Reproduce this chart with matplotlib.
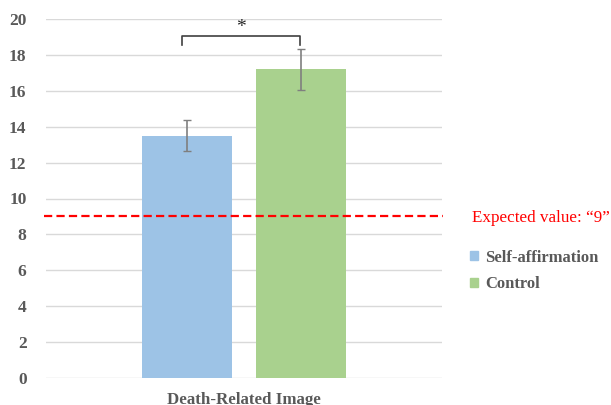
import matplotlib.pyplot as plt
from matplotlib.patches import Patch

# datos
grupos = ['Self-affirmation', 'Control']
medias = [13.48, 17.2]
err_abajo = [0.83, 1.16]
err_arriba = [0.89, 1.13]
categoria = 'Death-Related Image'
esperado = 9
colores = ['#9dc3e6', '#a9d18e']

plt.rcParams['font.family'] = ['Liberation Serif', 'DejaVu Serif']

fig = plt.figure(figsize=(6.11, 4.05), dpi=100)
ax = fig.add_axes([46/611, 1 - 378/405, 396/611, 359/405])

pos = [-0.144, 0.144]
for p, m, lo, hi, c in zip(pos, medias, err_abajo, err_arriba, colores):
    ax.bar(p, m, width=0.227, color=c, zorder=2)
    ax.errorbar(p, m, yerr=[[lo], [hi]], color='#7f7f7f', capsize=3,
                elinewidth=1.2, capthick=1, zorder=3)

ax.set_xlim(-0.5, 0.5)
ax.set_ylim(0, 20)
ax.set_yticks(range(0, 21, 2))
ax.set_xticks([0])
ax.set_xticklabels([categoria], fontsize=12.2, fontweight='bold', color='#595959')
ax.tick_params(axis='x', length=0, pad=10)
ax.tick_params(axis='y', length=0, labelsize=12.5, labelcolor='#595959', pad=14)
for lab in ax.get_yticklabels():
    lab.set_fontweight('bold')
ax.grid(axis='y', color='#d9d9d9', linewidth=1, zorder=0)
for s in ax.spines.values():
    s.set_visible(False)

# linea del valor esperado
ax.plot([-0.505, 0.503], [esperado, esperado], color='red', linestyle='--',
        linewidth=1.6, dashes=(3.7, 1.9), clip_on=False, zorder=4)
fig.text(472/611, 1 - 218/405, 'Expected value: \u201c9\u201d', color='red',
         fontsize=12.3, va='center', ha='left')

# corchete de significancia
x1, x2 = -0.157, 0.141
y1, y2 = 18.55, 19.05
ax.plot([x1, x1, x2, x2], [y1, y2, y2, y1], color='#404040', linewidth=1.2,
        zorder=4)
ax.text((x1 + x2) / 2, 19.05, '*', ha='center', va='bottom', fontsize=14,
        color='#262626')

# leyenda
handles = [Patch(color=c, label=g) for g, c in zip(grupos, colores)]
leg = fig.legend(handles=handles, loc='center left',
                 bbox_to_anchor=(455/611, 1 - 271/405), frameon=False,
                 handlelength=0.45, handleheight=0.45, handletextpad=0.45,
                 labelspacing=0.65, prop={'size': 12, 'weight': 'bold'})
for t in leg.get_texts():
    t.set_color('#595959')

plt.savefig('out.png', dpi=100)
